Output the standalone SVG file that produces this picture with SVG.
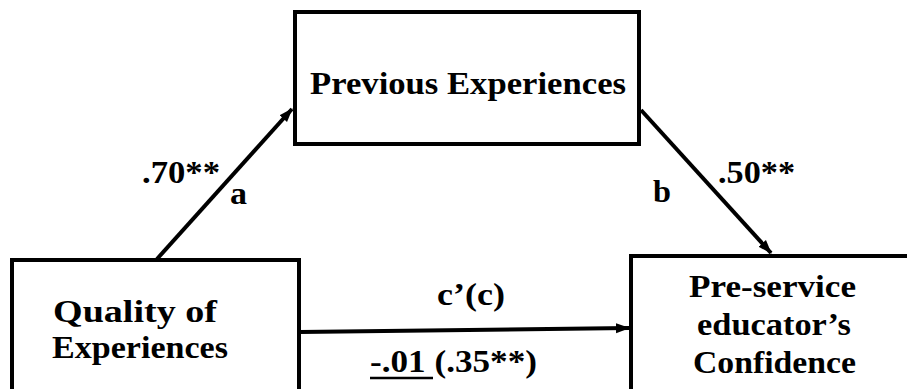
<svg xmlns="http://www.w3.org/2000/svg" width="907" height="389" viewBox="0 0 907 389">
<style>
.box{fill:#fff;stroke:#000;stroke-width:4}
.t{font-family:"Liberation Serif","Times New Roman",serif;font-weight:bold;font-size:32px;fill:#000}
.l{font-size:31px}
.c{stroke:#000;stroke-width:4;fill:none}
</style>
<defs>
<marker id="ah" markerUnits="userSpaceOnUse" markerWidth="14" markerHeight="12" refX="13" refY="6" orient="auto">
<path d="M0,1 L14,6 L0,11 Z" fill="#000"/>
</marker>
</defs>
<rect width="907" height="389" fill="#fff"/>
<g id="connectors">
<line class="c" x1="157" y1="259" x2="292" y2="109" marker-end="url(#ah)"/>
<line class="c" x1="641" y1="110" x2="771" y2="253" marker-end="url(#ah)"/>
<line class="c" x1="300" y1="332" x2="629" y2="328" stroke-width="3.5" marker-end="url(#ah)"/>
<text class="t l" x="142" y="183" textLength="78" lengthAdjust="spacingAndGlyphs">.70**</text>
<text class="t l" x="230" y="204" textLength="17" lengthAdjust="spacingAndGlyphs">a</text>
<text class="t l" x="653" y="202" textLength="18" lengthAdjust="spacingAndGlyphs">b</text>
<text class="t l" x="718" y="183" textLength="77" lengthAdjust="spacingAndGlyphs">.50**</text>
<text class="t l" x="437" y="305" textLength="68" lengthAdjust="spacingAndGlyphs">c’(c)</text>
<text class="t l" x="370" y="372" textLength="167" lengthAdjust="spacingAndGlyphs">-.01 (.35**)</text>
<line x1="370" y1="378" x2="433" y2="378" stroke="#000" stroke-width="2.5"/>
</g>
<g id="previous">
<rect class="box" x="295" y="12" width="344" height="132"/>
<text class="t" x="310" y="94" textLength="316" lengthAdjust="spacingAndGlyphs">Previous Experiences</text>
</g>
<g id="quality">
<rect class="box" x="12" y="260" width="287" height="160"/>
<text class="t" x="53" y="322" textLength="164" lengthAdjust="spacingAndGlyphs">Quality of</text>
<text class="t" x="52" y="358" textLength="176" lengthAdjust="spacingAndGlyphs">Experiences</text>
</g>
<g id="confidence">
<rect class="box" x="631" y="256" width="300" height="160"/>
<text class="t" x="689" y="297" textLength="167" lengthAdjust="spacingAndGlyphs">Pre-service</text>
<text class="t" x="697" y="335" textLength="154" lengthAdjust="spacingAndGlyphs">educator’s</text>
<text class="t" x="693" y="373" textLength="163" lengthAdjust="spacingAndGlyphs">Confidence</text>
</g>
</svg>
